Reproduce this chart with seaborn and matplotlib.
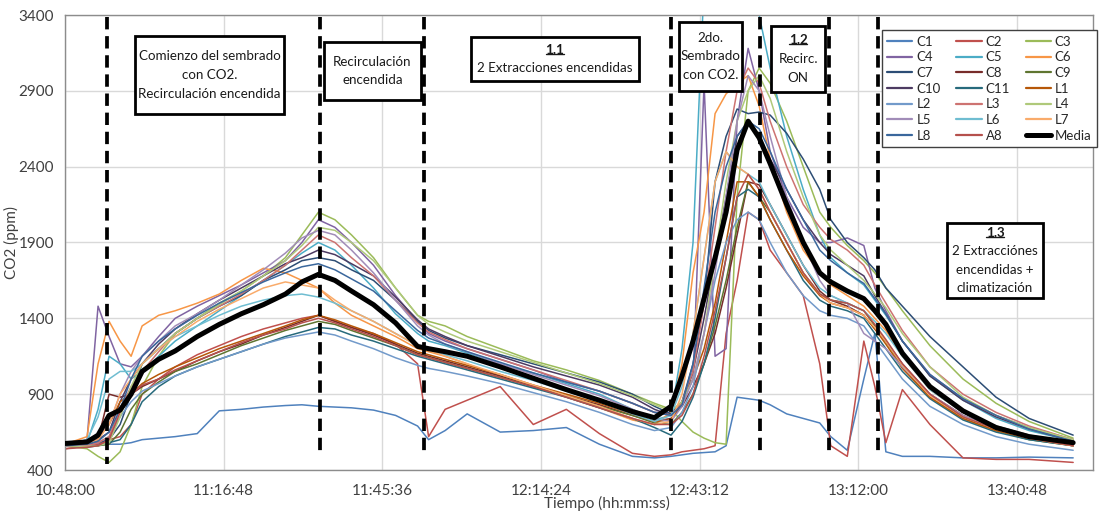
import matplotlib
matplotlib.use("Agg")
import matplotlib.pyplot as plt
import numpy as np
import pandas as pd
import seaborn as sns
from matplotlib.lines import Line2D
from matplotlib.patches import Rectangle

sns.set_style("white")
plt.rcParams["font.family"] = ["Lato", "DejaVu Sans"]

# ---------------- data (minutes after 10:48:00, CO2 in ppm) ----------------
minutes = [0, 4, 6, 8, 10, 12, 14, 17, 20, 24,
           28, 32, 36, 40, 43, 46, 49, 52, 56, 60,
           64, 66, 69, 73, 79, 85, 91, 97, 103, 107,
           110, 112, 114, 116, 118, 120, 122, 124, 126, 128,
           131, 134, 137, 139, 142, 145, 147, 149, 152, 157,
           163, 169, 175, 183]

C1 = [560, 560, 565, 570, 570, 580, 600, 610, 620, 640,
      790, 800, 815, 825, 830, 820, 815, 810, 795, 760,
      690, 600, 660, 770, 650, 660, 680, 570, 490, 480,
      490, 500, 510, 515, 520, 560, 880, 870, 860, 830,
      770, 740, 710, 620, 530, 1000, 1300, 520, 490, 490,
      480, 480, 485, 480]
C2 = [540, 560, 570, 600, 620, 700, 900, 1000, 1080, 1160,
      1220, 1280, 1330, 1370, 1400, 1420, 1380, 1340, 1300, 1230,
      1100, 620, 800, 860, 950, 700, 800, 640, 510, 490,
      500, 520, 530, 540, 560, 1300, 1650, 2100, 2050, 1850,
      1700, 1550, 1100, 560, 490, 1250, 950, 580, 930, 700,
      480, 470, 470, 450]
C3 = [560, 540, 490, 450, 520, 700, 950, 1150, 1300, 1400,
      1500, 1580, 1680, 1800, 1950, 2100, 2050, 1950, 1800, 1600,
      1420, 1380, 1350, 1280, 1200, 1120, 1060, 990, 900, 840,
      800, 720, 650, 610, 580, 570, 2200, 2900, 3050, 2950,
      2700, 2400, 2100, 2000, 1880, 1780, 1700, 1600, 1450, 1220,
      1000, 840, 720, 610]
C4 = [560, 600, 1480, 1280, 1100, 1080, 1150, 1280, 1400, 1480,
      1550, 1620, 1700, 1780, 1900, 2050, 2000, 1900, 1750, 1550,
      1380, 1300, 1250, 1200, 1130, 1060, 980, 920, 840, 780,
      780, 850, 1000, 2950, 1150, 1200, 2700, 3180, 2900, 2500,
      2200, 2000, 1900, 1900, 1930, 1880, 1600, 1450, 1250, 1030,
      870, 760, 680, 600]
C5 = [560, 580, 800, 1150, 1100, 1000, 1050, 1150, 1250, 1350,
      1450, 1550, 1650, 1750, 1830, 1900, 1850, 1750, 1600, 1430,
      1300, 1250, 1220, 1170, 1100, 1040, 970, 900, 800, 730,
      760, 1200, 1900, 3600, 3600, 3600, 3600, 3600, 3400, 3050,
      2600, 2250, 1950, 1800, 1700, 1620, 1520, 1420, 1250, 1020,
      860, 740, 660, 590]
C6 = [570, 620, 1100, 1380, 1250, 1150, 1350, 1420, 1450, 1500,
      1560, 1650, 1730, 1700, 1650, 1600, 1500, 1420, 1350, 1280,
      1200, 1180, 1150, 1100, 1020, 950, 880, 810, 730, 700,
      780, 1100, 1700, 2100, 2750, 2880, 2950, 3000, 2800, 2450,
      2100, 1850, 1700, 1620, 1550, 1480, 1400, 1320, 1150, 930,
      780, 690, 630, 570]
C7 = [560, 570, 580, 600, 700, 900, 1100, 1200, 1300, 1400,
      1480, 1550, 1650, 1720, 1780, 1800, 1780, 1720, 1650, 1520,
      1380, 1320, 1270, 1220, 1160, 1100, 1040, 980, 900, 820,
      770, 850, 1100, 1500, 2300, 2600, 2780, 2750, 2760, 2740,
      2620, 2450, 2250, 2050, 1900, 1800, 1720, 1600, 1480, 1280,
      1080, 880, 740, 630]
C8 = [560, 560, 600, 900, 880, 900, 950, 1000, 1050, 1120,
      1180, 1230, 1290, 1340, 1380, 1420, 1380, 1340, 1290, 1230,
      1170, 1150, 1120, 1080, 1020, 950, 890, 830, 760, 720,
      740, 820, 950, 1100, 1300, 1600, 1950, 2300, 2280, 2150,
      1950, 1750, 1580, 1520, 1480, 1420, 1330, 1250, 1100, 900,
      760, 670, 610, 560]
C9 = [560, 555, 560, 570, 650, 800, 900, 980, 1050, 1100,
      1160, 1220, 1270, 1320, 1350, 1380, 1360, 1320, 1270, 1220,
      1160, 1140, 1110, 1070, 1010, 950, 890, 820, 760, 710,
      700, 780, 900, 1100, 1350, 1650, 2000, 2300, 2200, 2100,
      1900, 1700, 1560, 1520, 1500, 1450, 1350, 1250, 1080, 880,
      740, 660, 600, 560]
C10 = [560, 570, 600, 650, 850, 1000, 1100, 1230, 1330, 1430,
       1520, 1600, 1680, 1760, 1800, 1850, 1820, 1760, 1680, 1540,
       1390, 1330, 1280, 1220, 1150, 1080, 1020, 960, 880, 800,
       760, 820, 1050, 1400, 1800, 2200, 2600, 2700, 2600, 2450,
       2250, 2050, 1900, 1820, 1750, 1680, 1550, 1430, 1250, 1020,
       860, 750, 670, 590]
C11 = [560, 550, 560, 580, 600, 700, 850, 950, 1020, 1080,
       1130, 1180, 1230, 1280, 1310, 1340, 1330, 1290, 1250, 1200,
       1150, 1130, 1100, 1060, 1000, 940, 880, 810, 740, 680,
       630, 720, 880, 1100, 1400, 1800, 2200, 2250, 2200, 2050,
       1850, 1650, 1520, 1480, 1450, 1400, 1300, 1200, 1050, 870,
       730, 650, 600, 560]
L1 = [560, 560, 620, 700, 850, 900, 970, 1030, 1080, 1140,
      1200, 1250, 1300, 1350, 1390, 1420, 1390, 1350, 1300, 1240,
      1180, 1160, 1130, 1090, 1030, 960, 900, 840, 770, 720,
      730, 850, 1000, 1200, 1500, 1900, 2300, 2300, 2200, 2050,
      1850, 1680, 1550, 1500, 1470, 1420, 1330, 1230, 1070, 880,
      740, 660, 610, 560]
L2 = [560, 560, 580, 620, 750, 850, 920, 970, 1020, 1080,
      1130, 1180, 1230, 1270, 1290, 1310, 1290, 1250, 1200, 1140,
      1090, 1070, 1050, 1020, 970, 910, 850, 780, 700, 660,
      680, 780, 950, 1300, 1650, 1900, 2050, 2100, 2050, 1900,
      1700, 1550, 1450, 1420, 1400, 1350, 1250, 1150, 1000, 820,
      700, 620, 570, 530]
L3 = [560, 560, 580, 620, 800, 950, 1050, 1180, 1300, 1400,
      1480, 1560, 1650, 1750, 1850, 1950, 1900, 1800, 1680, 1520,
      1370, 1310, 1260, 1200, 1130, 1060, 990, 920, 840, 780,
      760, 850, 1050, 1500, 2000, 2500, 2900, 3050, 2950, 2700,
      2400, 2150, 2000, 1920, 1850, 1750, 1620, 1500, 1320, 1080,
      900, 780, 690, 600]
L4 = [560, 555, 560, 580, 750, 950, 1100, 1200, 1300, 1400,
      1490, 1580, 1680, 1780, 1880, 2000, 1980, 1900, 1780, 1600,
      1420, 1360, 1310, 1250, 1180, 1110, 1040, 970, 890, 830,
      790, 850, 1000, 1300, 1800, 2300, 2700, 2900, 3000, 2850,
      2500, 2200, 1950, 1850, 1750, 1650, 1560, 1470, 1300, 1080,
      880, 760, 680, 600]
L5 = [560, 570, 620, 700, 900, 1050, 1150, 1250, 1350, 1430,
      1520, 1620, 1720, 1830, 1930, 1980, 1950, 1850, 1700, 1520,
      1350, 1290, 1230, 1180, 1100, 1030, 960, 890, 800, 740,
      720, 820, 1000, 1300, 1700, 2200, 2700, 3000, 2900, 2600,
      2200, 1900, 1650, 1550, 1500, 1300, 1250, 1200, 1080, 900,
      760, 670, 620, 570]
L6 = [560, 600, 750, 1000, 1050, 1050, 1100, 1200, 1280, 1350,
      1420, 1480, 1520, 1550, 1560, 1540, 1500, 1450, 1380, 1300,
      1220, 1190, 1160, 1120, 1050, 990, 920, 850, 770, 720,
      760, 950, 1300, 1800, 2300, 2500, 2400, 2350, 2300, 2150,
      1950, 1750, 1600, 1550, 1500, 1450, 1380, 1300, 1150, 930,
      780, 690, 630, 580]
L7 = [560, 570, 600, 700, 900, 1000, 1100, 1200, 1280, 1380,
      1460, 1530, 1600, 1640, 1620, 1600, 1520, 1450, 1380, 1300,
      1220, 1190, 1150, 1100, 1030, 960, 890, 820, 740, 700,
      720, 900, 1300, 1800, 2300, 2500, 2400, 2350, 2250, 2100,
      1900, 1700, 1560, 1500, 1470, 1420, 1340, 1250, 1090, 890,
      750, 670, 610, 560]
L8 = [560, 570, 590, 650, 800, 1000, 1150, 1250, 1330, 1420,
      1500, 1570, 1640, 1700, 1740, 1760, 1720, 1660, 1580, 1450,
      1320, 1270, 1230, 1180, 1110, 1040, 980, 920, 840, 780,
      760, 830, 1100, 1600, 2100, 2400, 2600, 2700, 2650, 2500,
      2250, 2050, 1850, 1780, 1700, 1630, 1530, 1430, 1250, 1030,
      870, 760, 670, 590]
A8 = [540, 550, 560, 600, 780, 900, 960, 1000, 1060, 1120,
      1180, 1240, 1290, 1330, 1370, 1400, 1370, 1330, 1280, 1220,
      1160, 1140, 1110, 1070, 1010, 950, 880, 810, 740, 700,
      700, 760, 900, 1150, 1450, 1800, 2200, 2350, 2250, 2100,
      1900, 1700, 1560, 1520, 1500, 1450, 1360, 1260, 1100, 900,
      750, 670, 610, 560]
Media = [575, 585, 630, 760, 795, 900, 1050, 1130, 1185, 1280,
         1360, 1430, 1490, 1560, 1640, 1690, 1650, 1580, 1490, 1370,
         1215, 1200, 1180, 1150, 1080, 1005, 930, 860, 785, 745,
         820, 1020, 1250, 1530, 1800, 2100, 2510, 2700, 2590, 2420,
         2150, 1900, 1700, 1640, 1580, 1530, 1450, 1360, 1170, 950,
         790, 680, 620, 580]

series_names = ["C1", "C2", "C3", "C4", "C5", "C6", "C7", "C8", "C9", "C10", "C11",
                "L1", "L2", "L3", "L4", "L5", "L6", "L7", "L8", "A8"]
series_values = [C1, C2, C3, C4, C5, C6, C7, C8, C9, C10, C11,
                 L1, L2, L3, L4, L5, L6, L7, L8, A8]
series_colors = ["#4F81BD", "#C0504D", "#9BBB59", "#8064A2", "#4BACC6", "#F79646",
                 "#2C4D75", "#772C2A", "#5F7530", "#4D3B62", "#276A7C", "#B65708",
                 "#729ACA", "#CD7371", "#AFC97A", "#A18CB8", "#6FBDD1", "#F9AB6B",
                 "#3A679C", "#B5504C"]

tick_minutes = [0, 28.8, 57.6, 86.4, 115.2, 144.0, 172.8]
tick_labels = ["10:48:00", "11:16:48", "11:45:36", "12:14:24", "12:43:12", "13:12:00", "13:40:48"]
y_ticks = [400, 900, 1400, 1900, 2400, 2900, 3400]

event_minutes = [7.6, 46.3, 65.2, 110.0, 126.1, 138.7, 147.5]
event_bottom = [440, 510, 500, 510, 490, 490, 510]
event_top = 3385

for v in series_values:
    assert len(v) == len(minutes)
assert len(Media) == len(minutes)

df = pd.DataFrame({
    "t": np.tile(minutes, len(series_names)),
    "ppm": np.concatenate(series_values),
    "serie": np.repeat(series_names, len(minutes)),
})

# ---------------- figure ----------------
W, H = 1099, 514
fig = plt.figure(figsize=(W / 100, H / 100), dpi=100)
ax = fig.add_axes([65 / W, 44 / H, (1093 - 65) / W, (470 - 15) / H])

palette = dict(zip(series_names, series_colors))
sns.lineplot(data=df, x="t", y="ppm", hue="serie", hue_order=series_names,
             palette=palette, linewidth=1.1, legend=False, errorbar=None,
             ax=ax, zorder=2)
sns.lineplot(x=minutes, y=Media, color="black", linewidth=3.6, ax=ax,
             errorbar=None, zorder=4)

for t, b in zip(event_minutes, event_bottom):
    ax.plot([t, t], [event_top, b], color="black", lw=2.7,
            linestyle=(0, (3.3, 1.8)), zorder=5, solid_capstyle="butt")

ax.set_xlim(0, 186.6)
ax.set_ylim(400, 3400)
ax.set_xticks(tick_minutes, tick_labels)
ax.set_yticks(y_ticks)
ax.grid(True, color="#D9D9D9", lw=1)
ax.set_axisbelow(True)
ax.tick_params(length=0, labelsize=11, colors="#404040")
ax.tick_params(axis="x", pad=10)
ax.tick_params(axis="y", pad=8)
for s in ax.spines.values():
    s.set_color("#8C8C8C")
    s.set_linewidth(1)
ax.set_xlabel("Tiempo (hh:mm:ss)", fontsize=11, color="#404040")
ax.set_ylabel("CO2 (ppm)", fontsize=11, color="#404040")
ax.xaxis.set_label_coords((607 - 65) / 1028, -0.058)
ax.yaxis.set_label_coords(-0.045, 0.5)

# legend (row-major order like the original)
handles = [Line2D([], [], color=c, lw=1.6) for c in series_colors]
handles.append(Line2D([], [], color="black", lw=3.6))
labels = series_names + ["Media"]
order = [r * 3 + c for c in range(3) for r in range(7)]
leg = ax.legend([handles[i] for i in order], [labels[i] for i in order],
                ncol=3, loc="upper right", bbox_to_anchor=(1097 / W, 1 - 30 / H),
                bbox_transform=fig.transFigure, fontsize=9.5, frameon=True,
                fancybox=False, framealpha=1, edgecolor="#404040",
                handlelength=1.9, handletextpad=0.3, columnspacing=1.2,
                labelspacing=0.28, borderpad=0.42, borderaxespad=0)
leg.get_frame().set_linewidth(1.0)
leg.set_zorder(20)

# annotation boxes
boxes = [
    ((135, 36, 284, 114), [("Comienzo del sembrado", False), ("con CO2.", False),
                           ("Recirculación encendida", False)]),
    ((324, 42, 421, 100), [("Recirculación", False), ("encendida", False)]),
    ((471, 37, 639, 81), [("1.1", True), ("2 Extracciones encendidas", False)]),
    ((679, 22, 742, 91), [("2do.", False), ("Sembrado", False), ("con CO2.", False)]),
    ((771, 26, 825, 92), [("1.2", True), ("Recirc.", False), ("ON", False)]),
    ((947, 223, 1043, 298), [("1.3", True), ("2 Extracciónes", False),
                             ("encendidas +", False), ("climatización", False)]),
]
spacing = 18.5
underline_texts = []
for (x0, y0, x1, y1), lines in boxes:
    fig.add_artist(Rectangle((x0 / W, 1 - y1 / H), (x1 - x0) / W, (y1 - y0) / H,
                             transform=fig.transFigure, fc="white", ec="black",
                             lw=2, zorder=10))
    cy = (y0 + y1) / 2
    cx = (x0 + x1) / 2
    n = len(lines)
    for i, (txt, bold) in enumerate(lines):
        py = cy + (i - (n - 1) / 2) * spacing
        t = fig.text(cx / W, 1 - py / H, txt, ha="center", va="center",
                     fontsize=9.6, color="#1a1a1a",
                     fontweight="bold" if bold else "normal", zorder=11)
        if bold:
            underline_texts.append(t)

fig.canvas.draw()
renderer = fig.canvas.get_renderer()
for t in underline_texts:
    bb = t.get_window_extent(renderer)
    yline = bb.y0 + 0.17 * bb.height
    fig.add_artist(Line2D([bb.x0 / W, bb.x1 / W], [yline / H, yline / H],
                          transform=fig.transFigure, color="#1a1a1a", lw=1.0,
                          zorder=12))

fig.savefig("out.png", dpi=100)
